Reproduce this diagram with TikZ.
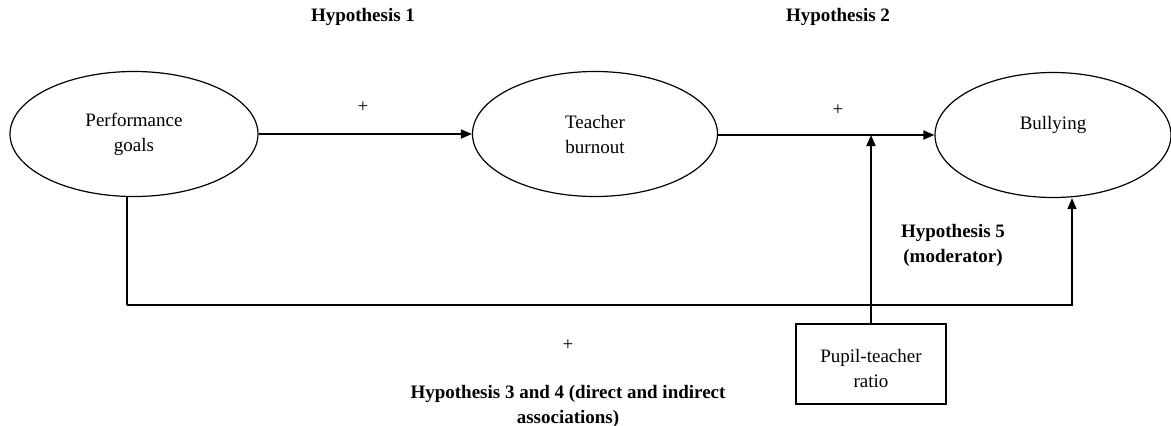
\documentclass[tikz,border=0pt]{standalone}
\usepackage{fontspec}
\setmainfont{Liberation Serif}
\usepackage{tikz}
\usetikzlibrary{arrows.meta, positioning, calc, shapes.geometric}

\newcommand{\diagfont}{\fontsize{19}{25}\selectfont\rmfamily}

\tikzset{
  construct/.style={ellipse, draw, line width=1.2pt, minimum width=248pt, minimum height=125pt, inner sep=0pt, align=center},
  ratiobox/.style={rectangle, draw, line width=1.2pt, minimum width=150pt, minimum height=80pt, align=center},
  hyplabel/.style={font=\diagfont\bfseries, align=center},
  path arrow/.style={-{Triangle[length=11pt, width=9pt]}, line width=1.8pt},
}

\begin{document}
\begin{tikzpicture}[x=1pt, y=-1pt, font=\diagfont]
  \useasboundingbox (0,0) rectangle (1171,426);

  % constructs
  \node[construct] (perf) at (134,134) {Performance\\goals};
  \node[construct, minimum width=245pt] (burn) at (595,134) {Teacher\\burnout};
  \node[construct, minimum width=236pt] (bully) at (1053,135) {};
  \node (bullytext) at ($(bully.center)+(0,-10)$) {Bullying};
  \node[ratiobox] (ratio) at (871,364) {};
  \node[align=center] (ratiotext) at ($(ratio.center)+(0,4)$) {Pupil-teacher\\ratio};

  % hypothesis labels
  \node[hyplabel] (h1) at (363,17) {Hypothesis 1};
  \node[hyplabel] (h2) at (838,17) {Hypothesis 2};
  \node[hyplabel] (h5) at (953,245) {Hypothesis 5\\(moderator)};
  \node[hyplabel] (h34) at (568,406) {Hypothesis 3 and 4 (direct and indirect\\associations)};
  \node (p1) at (363,107) {+};
  \node (p2) at (838,110) {+};
  \node (p3) at (568,345) {+};

  % paths
  \draw[path arrow] (perf) -- (burn);
  \draw[path arrow] (burn.east |- bully.west) -- (bully.west);
  \coordinate (mod) at (ratio.north |- bully.west);
  \draw[path arrow] (ratio.north) -- (mod);
  \coordinate (down) at ($(perf.south)+(-7,0)$);
  \coordinate (up) at ($(bully.south)+(19,0)$);
  \draw[line width=1.4pt] (down) -- ++(0,108) coordinate (corner);
  \draw[path arrow, line width=1.4pt] (corner) -| (up);
\end{tikzpicture}
\end{document}
